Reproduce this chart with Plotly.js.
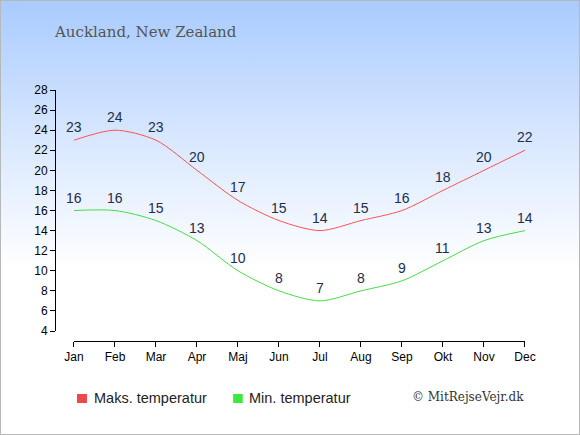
<!DOCTYPE html>
<html><head><meta charset="utf-8">
<script src="https://cdn.plot.ly/plotly-3.0.1.min.js"></script>
<style>
html,body{margin:0;padding:0;}
#wrap{width:578px;height:433px;border:1px solid #b8b8b8;background:linear-gradient(to bottom,#a9cbff 0%,#d6e6ff 30%,#ffffff 62%,#ffffff 100%);}
#chart{width:578px;height:433px;}
</style></head>
<body><div id="wrap"><div id="chart"></div></div>
<script>
var months = ["Jan","Feb","Mar","Apr","Maj","Jun","Jul","Aug","Sep","Okt","Nov","Dec"];
var maxTemp = [23,24,23,20,17,15,14,15,16,18,20,22];
var minTemp = [16,16,15,13,10,8,7,8,9,11,13,14];
var yTicks = [4,6,8,10,12,14,16,18,20,22,24,26,28];
var seriesNames = ["Maks. temperatur","Min. temperatur"];
var colors = ["#ff5252","#44dd44"];
var legendColors = ["#f04848","#3ee83e"];

var idx = months.map(function(_,i){return i;});
var labelFont = {family:"Liberation Sans, Arial, sans-serif", size:14, color:"#1e2e4e"};
function lineTrace(vals,c){
  return {x:idx,y:vals,mode:"lines",line:{color:c,width:1,shape:"spline",smoothing:0.8},
    showlegend:false,hoverinfo:"none"};
}
var data = [lineTrace(maxTemp,colors[0]), lineTrace(minTemp,colors[1])];

var anns = [];
[maxTemp,minTemp].forEach(function(vals){
  vals.forEach(function(v,i){
    anns.push({x:idx[i],y:v,xref:"x",yref:"y",text:String(v),showarrow:false,
      xanchor:"center",yanchor:"middle",yshift:13,font:labelFont});
  });
});
var legFont = {family:"Liberation Sans, Arial, sans-serif",size:14.5,color:"#222"};
anns.push(
  {text:"Auckland, New Zealand",xref:"paper",yref:"paper",x:-0.0064,y:1.231,xanchor:"left",yanchor:"middle",
   showarrow:false,font:{family:"DejaVu Serif, Georgia, serif",size:15,color:"#555555"}},
  {text:"© MitRejseVejr.dk",xref:"paper",yref:"paper",x:1.002,y:-0.223,xanchor:"right",yanchor:"middle",
   showarrow:false,font:{family:"DejaVu Serif, Georgia, serif",size:12,color:"#333333"}},
  {text:seriesNames[0],xref:"paper",yref:"paper",x:0.079,y:-0.229,xanchor:"left",yanchor:"middle",
   showarrow:false,font:legFont},
  {text:seriesNames[1],xref:"paper",yref:"paper",x:0.409,y:-0.229,xanchor:"left",yanchor:"middle",
   showarrow:false,font:legFont}
);

var layout = {
  width:578,height:433,
  margin:{l:54,r:54,t:89,b:93,pad:0},
  paper_bgcolor:"rgba(0,0,0,0)",plot_bgcolor:"rgba(0,0,0,0)",
  showlegend:false,
  xaxis:{domain:[0.0404,1],range:[0,11],tickvals:idx,ticktext:months,
    showgrid:false,zeroline:false,showline:true,linecolor:"#000",linewidth:1,
    ticks:"outside",ticklen:5,tickcolor:"#000",anchor:"free",position:0,
    tickfont:{family:"Liberation Sans, Arial, sans-serif",size:12,color:"#000"},fixedrange:true},
  yaxis:{domain:[0.0398,1],range:[4,28],tickvals:yTicks,
    showgrid:false,zeroline:false,showline:true,linecolor:"#000",linewidth:1,
    ticks:"outside",ticklen:5,tickcolor:"#000",anchor:"free",position:0,
    tickfont:{family:"Liberation Sans, Arial, sans-serif",size:12,color:"#000"},fixedrange:true},
  shapes:[
    {type:"rect",xref:"paper",yref:"paper",x0:0.0468,x1:0.068,y0:-0.247,y1:-0.211,fillcolor:legendColors[0],line:{width:0}},
    {type:"rect",xref:"paper",yref:"paper",x0:0.379,x1:0.3995,y0:-0.247,y1:-0.211,fillcolor:legendColors[1],line:{width:0}}
  ],
  annotations:anns
};
Plotly.newPlot("chart",data,layout,{displayModeBar:false,staticPlot:true});
</script></body></html>
